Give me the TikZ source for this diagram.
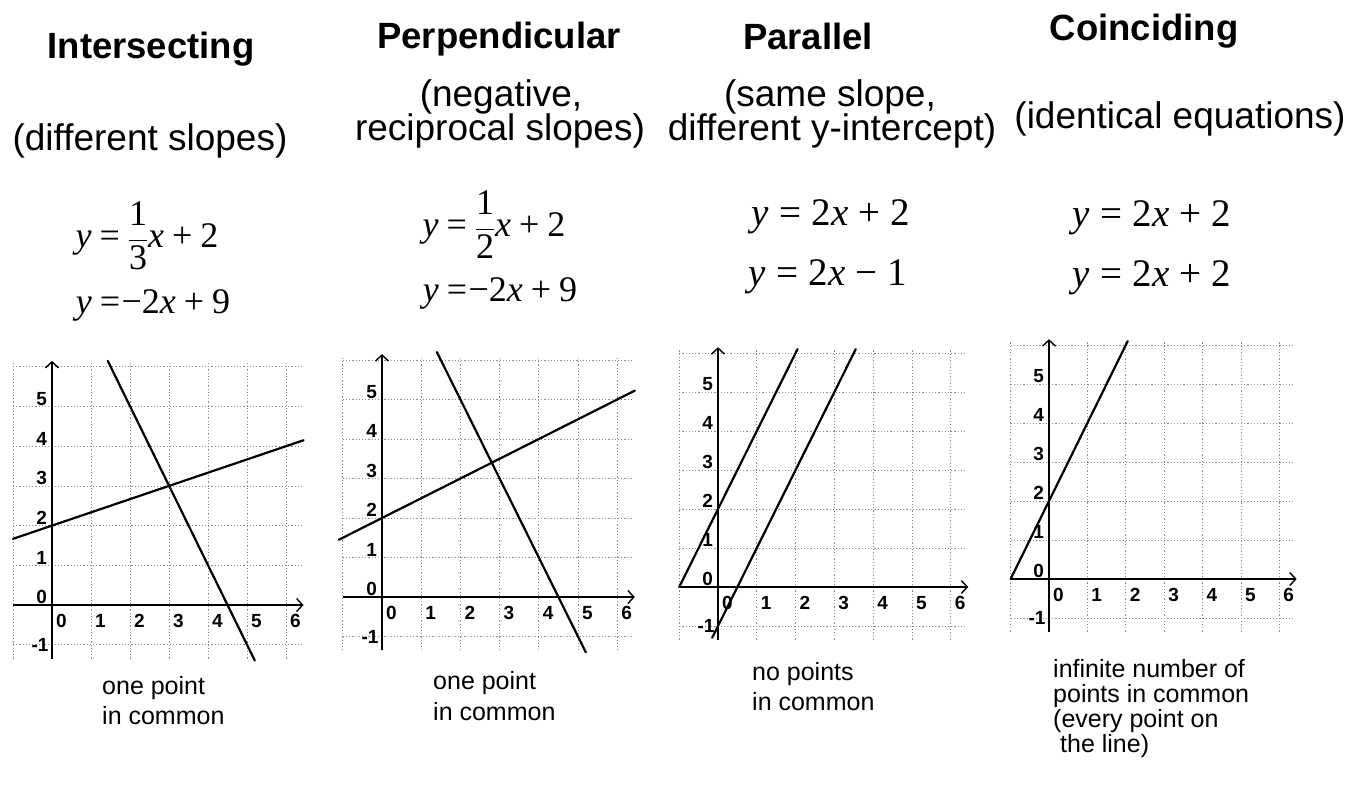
\documentclass[tikz,border=0pt]{standalone}
\usepackage{fontspec}
\setmainfont{Liberation Sans}
\newfontfamily\tms{Liberation Serif}
\usetikzlibrary{arrows.meta}
\newcommand{\mi}[1]{{\itshape #1}}
\newcommand{\gp}{\hspace{0.22em}}
\newcommand{\gq}{\hspace{0.26em}}
\newcommand{\frc}[2]{\ensuremath{\displaystyle{\raisebox{5pt}{\tms #1}\above 1.3pt\hbox{\tms #2}}}}
\tikzset{
  ttl/.style={font=\fontsize{36.5pt}{40pt}\selectfont\bfseries, anchor=base, inner sep=0pt},
  subt/.style={font=\fontsize{37pt}{40pt}\selectfont, anchor=base, inner sep=0pt},
  eqn/.style={font=\fontsize{39pt}{42pt}\selectfont\tms, anchor=base, inner sep=0pt},
  eqs/.style={font=\fontsize{36pt}{40pt}\selectfont\tms, anchor=base, inner sep=0pt},
  captxt/.style={font=\fontsize{25pt}{27pt}\selectfont, anchor=base west, inner sep=0pt},
  gridl/.style={black!45, line width=0.7pt, dash pattern=on 1.2pt off 2pt},
  axisl/.style={line width=1.8pt, -{Straight Barb[length=6pt,width=13pt,line width=1.4pt]}},
  fnl/.style={line width=2.2pt, line cap=round},
  tlab/.style={font=\fontsize{19pt}{20pt}\selectfont\bfseries, inner sep=1pt},
}
\begin{document}
\begin{tikzpicture}
\useasboundingbox[fill=white] (0pt,0pt) rectangle (1357pt,-785pt);

% ---------- column 1 ----------
\node[ttl] (t1) at (151pt,-58pt) {Intersecting};
\node[subt] (s1) at (150pt,-150pt) {(different slopes)};
\node[eqs] (e1a) at (147pt,-247pt) {\mi{y}\gp=\gp\frc{1}{3}\mi{x}\gp+\gp2};
\node[eqs] (e1b) at (153pt,-313pt) {\mi{y}\gp=\hspace{0.04em}−2\mi{x}\gp+\gp9};

% ---------- column 2 ----------
\node[ttl] (t2) at (499pt,-48pt) {Perpendicular};
\node[subt] (s2a) at (501pt,-106pt) {(negative,};
\node[subt] (s2b) at (500pt,-140pt) {reciprocal slopes)};
\node[eqs] (e2a) at (494pt,-236pt) {\mi{y}\gp=\gp\frc{1}{2}\mi{x}\gp+\gp2};
\node[eqs] (e2b) at (500pt,-301pt) {\mi{y}\gp=\hspace{0.04em}−2\mi{x}\gp+\gp9};

% ---------- column 3 ----------
\node[ttl] (t3) at (808pt,-49pt) {Parallel};
\node[subt] (s3a) at (830pt,-106pt) {(same slope,};
\node[subt] (s3b) at (832pt,-140pt) {different y-intercept)};
\node[eqn] (e3a) at (831pt,-225pt) {\mi{y}\gq=\gq2\mi{x}\gq+\gq2};
\node[eqn] (e3b) at (828pt,-285pt) {\mi{y}\gq=\gq2\mi{x}\gq−\gq1};

% ---------- column 4 ----------
\node[ttl] (t4) at (1144pt,-40pt) {Coinciding};
\node[subt] (s4) at (1180pt,-128pt) {(identical equations)};
\node[eqn] (e4a) at (1152pt,-226pt) {\mi{y}\gq=\gq2\mi{x}\gq+\gq2};
\node[eqn] (e4b) at (1152pt,-286pt) {\mi{y}\gq=\gq2\mi{x}\gq+\gq2};

% ---------- graphs ----------
\newcommand{\graphbase}[1]{%
  \foreach \i in {-1,...,6} \draw[gridl] (\i,-1.35) -- (\i,6.1);
  \foreach \j in {-1,...,6} \draw[gridl] (-1,\j) -- (6.4,\j);
  \draw[axisl] (0,-1.35) -- (0,6.15);
  \draw[axisl] (-1,0) -- (6.45,0);
  \foreach \j in {0,...,5} \node[tlab, anchor=south east] (#1y\j) at (-0.1,\j) {\j};
  \node[tlab, anchor=east] (#1ym) at (-0.06,-1) {-1};
  \foreach \i in {0,...,6} \node[tlab, anchor=west, inner sep=0pt] (#1x\i) at (\i+0.1,-0.4) {\i};
}

\begin{scope}[shift={(52pt,-605pt)}, x=39pt, y=39.7pt]
  \graphbase{ga}
  \draw[fnl] (-1,1.6667) -- (6.45,4.15);
  \draw[fnl] (1.43,6.15) -- (5.2,-1.4);
\end{scope}

\begin{scope}[shift={(382pt,-597pt)}, x=39.2pt, y=39.5pt]
  \graphbase{gb}
  \draw[fnl] (-1.1,1.45) -- (6.45,5.225);
  \draw[fnl] (1.4,6.2) -- (5.2,-1.4);
\end{scope}

\begin{scope}[shift={(718pt,-587pt)}, x=38.8pt, y=39pt]
  \graphbase{gc}
  \draw[fnl] (-1,0) -- (2.05,6.1);
  \draw[fnl] (-0.15,-1.3) -- (3.55,6.1);
\end{scope}

\begin{scope}[shift={(1049pt,-579pt)}, x=38.4pt, y=39pt]
  \graphbase{gd}
  \draw[fnl] (-1,0) -- (2.05,6.1);
\end{scope}

% ---------- captions ----------
\node[captxt] (c1a) at (102pt,-694pt) {one point};
\node[captxt] (c1b) at (102pt,-724pt) {in common};
\node[captxt] (c2a) at (433pt,-689pt) {one point};
\node[captxt] (c2b) at (433pt,-720pt) {in common};
\node[captxt] (c3a) at (752pt,-680pt) {no points};
\node[captxt] (c3b) at (752pt,-710pt) {in common};
\node[captxt] (c4a) at (1053pt,-677pt) {infinite number of};
\node[captxt] (c4b) at (1053pt,-702pt) {points in common};
\node[captxt] (c4c) at (1053pt,-727pt) {(every point on};
\node[captxt] (c4d) at (1060pt,-752pt) {the line)};
\end{tikzpicture}
\end{document}
